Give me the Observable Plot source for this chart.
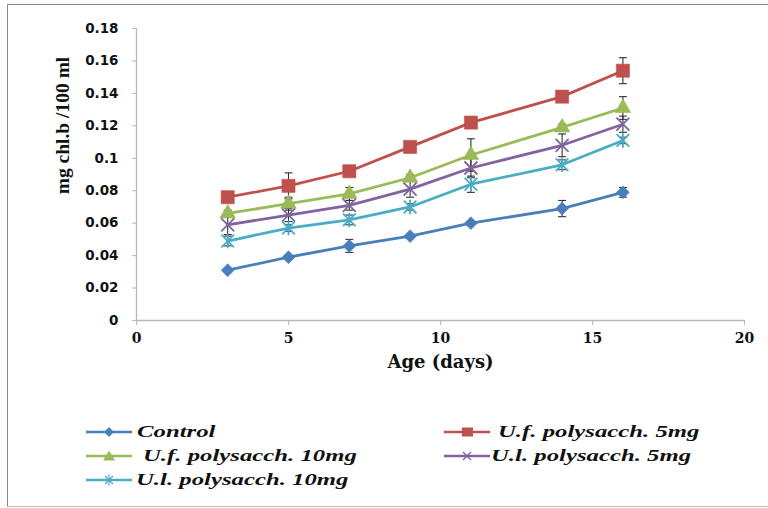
<!DOCTYPE html>
<html><head><meta charset="utf-8">
<script src="https://cdn.jsdelivr.net/npm/d3@7"></script>
<script src="https://cdn.jsdelivr.net/npm/@observablehq/plot@0.6"></script>
<style>
html,body{margin:0;padding:0;background:#fff}
#wrap{position:relative;width:768px;height:508px;overflow:hidden;background:#fff}
#chart{position:absolute;left:0;top:0}
.frame{position:absolute;left:7px;top:4px;width:820px;height:501px;border-left:1.5px solid #8a8a8a;border-top:1.5px solid #8a8a8a;border-bottom:1.5px solid #bdbdbd;pointer-events:none}
.leg{position:absolute;height:20px;width:300px}
.leg svg{position:absolute;left:0;top:0}
.leg span{position:absolute;top:0;line-height:20px;white-space:nowrap;font:italic bold 16.5px "Liberation Serif",serif;color:#111;transform:scaleX(1.5);transform-origin:left center}
</style></head><body>
<div id="wrap"><div id="chart"></div><div id="legend"></div><div class="frame"></div></div>
<script>
// ---- data ----
const days = [3, 5, 7, 9, 11, 14, 16];
const seriesNames = ["Control", "U.f. polysacch. 5mg", "U.f. polysacch. 10mg", "U.l. polysacch. 5mg", "U.l. polysacch. 10mg"];
const controlValues = [0.031, 0.039, 0.046, 0.052, 0.060, 0.069, 0.079];
const uf5Values     = [0.076, 0.083, 0.092, 0.107, 0.122, 0.138, 0.154];
const uf10Values    = [0.066, 0.072, 0.078, 0.088, 0.102, 0.119, 0.131];
const ul5Values     = [0.059, 0.065, 0.071, 0.081, 0.094, 0.108, 0.121];
const ul10Values    = [0.049, 0.057, 0.062, 0.070, 0.084, 0.096, 0.111];
const controlErr = [0.001, 0.001, 0.004, 0.001, 0.001, 0.005, 0.003];
const uf5Err     = [0.002, 0.008, 0.002, 0.001, 0.002, 0.003, 0.008];
const uf10Err    = [0.002, 0.004, 0.004, 0.002, 0.010, 0.002, 0.007];
const ul5Err     = [0.006, 0.004, 0.003, 0.005, 0.006, 0.007, 0.005];
const ul10Err    = [0.003, 0.002, 0.003, 0.002, 0.005, 0.003, 0.002];
const xTicks = [0, 5, 10, 15, 20];
const xTickLabels = ["0", "5", "10", "15", "20"];
const yTicks = [0, 0.02, 0.04, 0.06, 0.08, 0.1, 0.12, 0.14, 0.16, 0.18];
const yTickLabels = ["0", "0.02", "0.04", "0.06", "0.08", "0.1", "0.12", "0.14", "0.16", "0.18"];
const xTitle = "Age (days)";
const yTitle = "mg chl.b /100 ml";

// ---- styles ----
const seriesColors = ["#4a7ebb", "#c0504d", "#9bbb59", "#8064a2", "#4bacc6"];
const allValues = [controlValues, uf5Values, uf10Values, ul5Values, ul10Values];
const allErr = [controlErr, uf5Err, uf10Err, ul5Err, ul10Err];

const symTimes = {draw(ctx, size) {const r = Math.sqrt(size / Math.PI); ctx.moveTo(-r, -r); ctx.lineTo(r, r); ctx.moveTo(-r, r); ctx.lineTo(r, -r);}};
const symStar = {draw(ctx, size) {const r = Math.sqrt(size / Math.PI); ctx.moveTo(-r, -r); ctx.lineTo(r, r); ctx.moveTo(-r, r); ctx.lineTo(r, -r); ctx.moveTo(0, -r * 1.15); ctx.lineTo(0, r * 1.15);}};
const symCap = {draw(ctx, size) {const r = Math.sqrt(size / Math.PI); ctx.moveTo(-r, 0); ctx.lineTo(r, 0);}};
const markerStyles = [
  {symbol: "diamond2", r: 5.8, filled: true},
  {symbol: "square", r: 7.4, filled: true},
  {symbol: "triangle", r: 5.8, filled: true},
  {symbol: symTimes, r: 6.5, filled: false},
  {symbol: symStar, r: 6.3, filled: false}
];

const table = seriesNames.flatMap((s, i) => days.map((d, j) => ({series: s, idx: i, day: d, value: allValues[i][j], err: allErr[i][j]})));
const errRows = table.filter(d => d.err > 0);

const marks = [
  Plot.ruleY([0], {stroke: "#b8b8b8", strokeWidth: 1.3}),
  Plot.ruleX([0], {stroke: "#b8b8b8", strokeWidth: 1.3}),
  Plot.axisY({ticks: yTicks, tickFormat: d => yTickLabels[yTicks.indexOf(d)], tickSize: 4, tickPadding: 14, stroke: "#b8b8b8", fill: "#111", label: null, fontSize: 13.5, fontWeight: "bold", fontFamily: "DejaVu Sans"}),
  Plot.axisX({ticks: xTicks, tickFormat: d => xTickLabels[xTicks.indexOf(d)], tickSize: 5, tickPadding: 8, stroke: "#b8b8b8", fill: "#111", label: null, fontSize: 14, fontWeight: "bold", fontFamily: "DejaVu Serif"}),
  Plot.line(table, {x: "day", y: "value", z: "series", stroke: "series", strokeWidth: 2.8}),
  Plot.ruleX(errRows, {x: "day", y1: d => d.value - d.err, y2: d => d.value + d.err, stroke: "#333", strokeWidth: 1.1}),
  Plot.dot(errRows, {x: "day", y: d => d.value + d.err, symbol: symCap, r: 4, stroke: "#333", fill: "none", strokeWidth: 1.1}),
  Plot.dot(errRows, {x: "day", y: d => d.value - d.err, symbol: symCap, r: 4, stroke: "#333", fill: "none", strokeWidth: 1.1}),
  ...markerStyles.map((m, i) => Plot.dot(table.filter(d => d.idx === i), m.filled
    ? {x: "day", y: "value", symbol: m.symbol, r: m.r, fill: seriesColors[i], stroke: seriesColors[i], strokeWidth: 0.6}
    : {x: "day", y: "value", symbol: m.symbol, r: m.r, fill: "none", stroke: seriesColors[i], strokeWidth: 1.8})),
  Plot.text([xTitle], {text: d => d, frameAnchor: "bottom", dy: 47, fontFamily: "DejaVu Serif", fontWeight: "bold", fontSize: 18, fill: "#111"}),
  Plot.text([yTitle], {text: d => d, frameAnchor: "top-left", textAnchor: "middle", lineAnchor: "middle", dx: -74, dy: 97, rotate: -90, fontFamily: "Liberation Serif", fontWeight: "bold", fontSize: 19.5, fill: "#111"})
];

const chart = Plot.plot({
  width: 768, height: 380,
  marginLeft: 136, marginRight: 24, marginTop: 28, marginBottom: 60,
  x: {domain: [0, 20]},
  y: {domain: [0, 0.18]},
  color: {domain: seriesNames, range: seriesColors},
  style: {background: "transparent", fontFamily: "DejaVu Sans", overflow: "visible"},
  marks
});
document.getElementById("chart").appendChild(chart);

// ---- legend (below the svg) ----
const legendPos = [
  {left: 86, top: 432, textX: 51},
  {left: 444, top: 432, textX: 54},
  {left: 86, top: 456, textX: 57},
  {left: 444, top: 456, textX: 47},
  {left: 86, top: 480, textX: 50}
];
const legendGlyph = [
  c => `<polygon points="23,5 28,10 23,15 18,10" fill="${c}"/>`,
  c => `<rect x="18" y="5.5" width="11" height="9" fill="${c}"/>`,
  c => `<polygon points="23,4.5 29,14.5 17,14.5" fill="${c}"/>`,
  c => `<path d="M19,6L27,14M19,14L27,6" stroke="${c}" stroke-width="1.3" fill="none"/>`,
  c => `<path d="M19,6L27,14M19,14L27,6M23,4.5L23,15.5" stroke="${c}" stroke-width="1.2" fill="none"/>`
];
const legend = document.getElementById("legend");
seriesNames.forEach((name, i) => {
  const p = legendPos[i], c = seriesColors[i];
  const div = document.createElement("div");
  div.className = "leg";
  div.style.left = p.left + "px";
  div.style.top = (p.top - 10) + "px";
  div.innerHTML = `<svg width="47" height="20"><line x1="0" y1="10" x2="46" y2="10" stroke="${c}" stroke-width="2.6"/>${legendGlyph[i](c)}</svg><span style="left:${p.textX}px"></span>`;
  div.querySelector("span").textContent = name;
  legend.appendChild(div);
});
</script>
</body></html>
